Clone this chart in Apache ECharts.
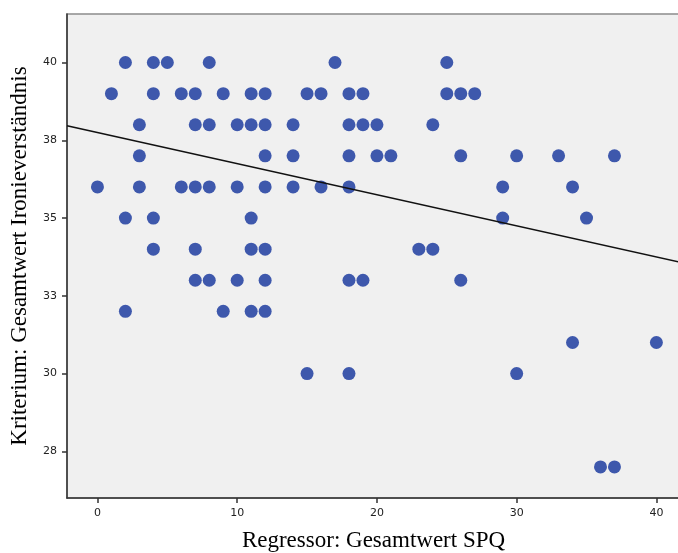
<!DOCTYPE html>
<html>
<head>
<meta charset="utf-8">
<script src="https://cdn.jsdelivr.net/npm/echarts@6/dist/echarts.min.js"></script>
<style>
  html, body { margin: 0; padding: 0; background: #fff; }
  #chart { width: 678px; height: 553px; }
</style>
</head>
<body>
<div id="chart"></div>
<script>
// SPQ-Gesamtwert (x) und Ironieverständnis (y), zeilenweise von oben gelesen
const spqScore = [
  2, 4, 5, 8, 17, 25,
  1, 4, 6, 7, 9, 11, 12, 15, 16, 18, 19, 25, 26, 27,
  3, 7, 8, 10, 11, 12, 14, 18, 19, 20, 24,
  3, 12, 14, 18, 20, 21, 26, 30, 33, 37,
  0, 3, 6, 7, 8, 10, 12, 14, 16, 18, 29, 34,
  2, 4, 11, 29, 35,
  4, 7, 11, 12, 23, 24,
  7, 8, 10, 12, 18, 19, 26,
  2, 9, 11, 12,
  34, 40,
  15, 18, 30,
  36, 37
];
const ironyScore = [
  40, 40, 40, 40, 40, 40,
  39, 39, 39, 39, 39, 39, 39, 39, 39, 39, 39, 39, 39, 39,
  38, 38, 38, 38, 38, 38, 38, 38, 38, 38, 38,
  37, 37, 37, 37, 37, 37, 37, 37, 37, 37,
  36, 36, 36, 36, 36, 36, 36, 36, 36, 36, 36, 36,
  35, 35, 35, 35, 35,
  34, 34, 34, 34, 34, 34,
  33, 33, 33, 33, 33, 33, 33,
  32, 32, 32, 32,
  31, 31,
  30, 30, 30,
  27, 27
];

// Regressionsgerade (Endpunkte am Rand des Diagramms)
const fitX = [-2.18, 41.69];
const fitY = [37.97, 33.58];

const xTicks = [0, 10, 20, 30, 40];
const yTicks = [27.5, 30, 32.5, 35, 37.5, 40];

const chart = echarts.init(document.getElementById("chart"));

chart.setOption({
  animation: false,
  grid: {
    left: 67,
    top: 14,
    right: -2,
    bottom: 55,
    outerBoundsMode: "none",
    containLabel: false,
    show: true,
    backgroundColor: "#f0f0f0",
    borderColor: "#8c8c8c",
    borderWidth: 1.5
  },
  xAxis: {
    type: "value",
    min: -2.18,
    max: 41.69,
    name: "Regressor: Gesamtwert SPQ",
    nameLocation: "middle",
    nameGap: 31,
    nameTextStyle: {
      fontFamily: "Liberation Serif",
      fontSize: 23,
      color: "#000"
    },
    splitLine: { show: false },
    axisLine: { onZero: false, lineStyle: { color: "#333", width: 1.5 } },
    axisTick: {
      customValues: xTicks,
      length: 5,
      lineStyle: { color: "#333", width: 1.5 }
    },
    axisLabel: {
      customValues: xTicks,
      margin: 10,
      fontFamily: "DejaVu Sans",
      fontSize: 11,
      color: "#222"
    }
  },
  yAxis: {
    type: "value",
    min: 26.0,
    max: 41.56,
    name: "Kriterium: Gesamtwert Ironieverständnis",
    nameLocation: "middle",
    nameGap: 36,
    nameTextStyle: {
      fontFamily: "Liberation Serif",
      fontSize: 23,
      color: "#000"
    },
    splitLine: { show: false },
    axisLine: { show: true, onZero: false, lineStyle: { color: "#333", width: 1.5 } },
    axisTick: {
      show: true,
      customValues: yTicks,
      length: 5,
      lineStyle: { color: "#333", width: 1.5 }
    },
    axisLabel: {
      customValues: yTicks,
      margin: 10,
      fontFamily: "DejaVu Sans",
      fontSize: 11,
      color: "#222",
      formatter: function (v) {
        return String(Math.round(v));
      }
    }
  },
  series: [
    {
      type: "scatter",
      symbolSize: 13,
      itemStyle: { color: "#3e58ac", opacity: 1 },
      data: spqScore.map(function (x, i) { return [x, ironyScore[i]]; }),
      z: 2
    },
    {
      type: "line",
      showSymbol: false,
      lineStyle: { color: "#111", width: 1.5 },
      data: fitX.map(function (x, i) { return [x, fitY[i]]; }),
      z: 3
    }
  ]
});
</script>
</body>
</html>
